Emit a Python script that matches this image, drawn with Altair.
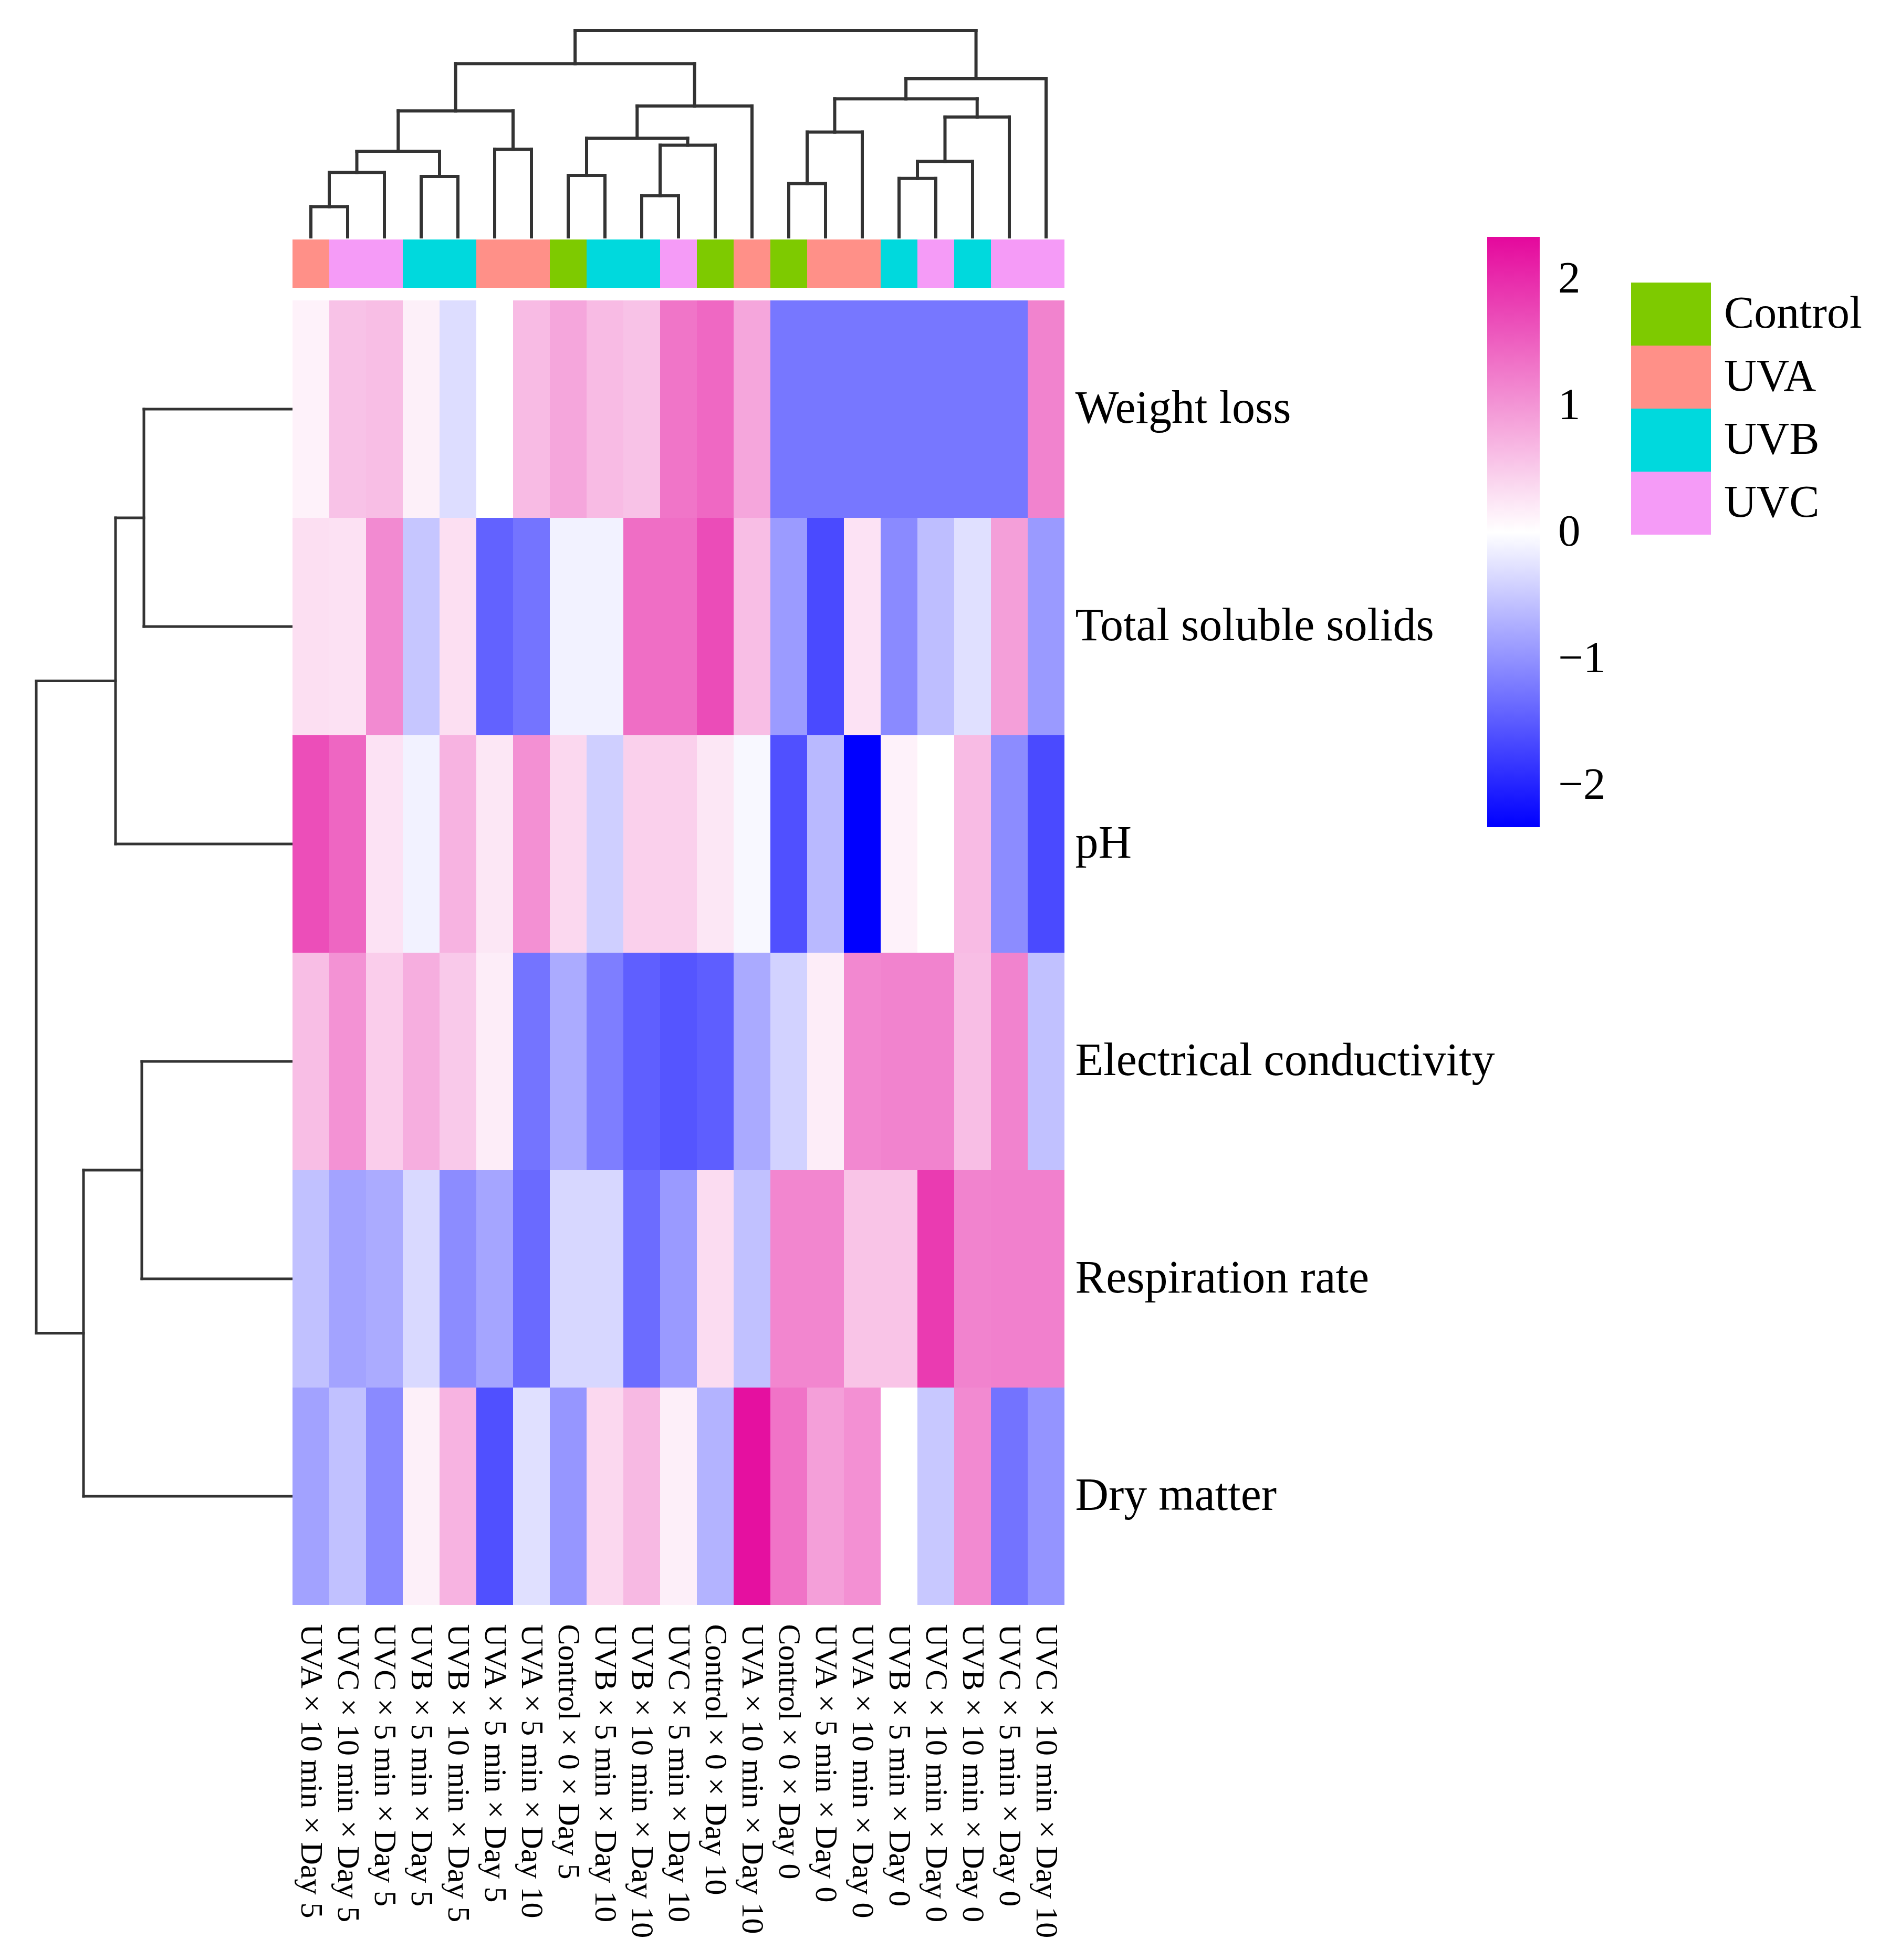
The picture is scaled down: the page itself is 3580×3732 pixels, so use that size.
import altair as alt
import pandas as pd

# ---------------- data ----------------
col_labels = [
    "UVA × 10 min × Day 5", "UVC × 10 min × Day 5", "UVC × 5 min × Day 5",
    "UVB × 5 min × Day 5", "UVB × 10 min × Day 5", "UVA × 5 min × Day 5",
    "UVA × 5 min × Day 10", "Control × 0 × Day 5", "UVB × 5 min × Day 10",
    "UVB × 10 min × Day 10", "UVC × 5 min × Day 10", "Control × 0 × Day 10",
    "UVA × 10 min × Day 10", "Control × 0 × Day 0", "UVA × 5 min × Day 0",
    "UVA × 10 min × Day 0", "UVB × 5 min × Day 0", "UVC × 10 min × Day 0",
    "UVB × 10 min × Day 0", "UVC × 5 min × Day 0", "UVC × 10 min × Day 10",
]
col_groups = ["UVA", "UVC", "UVC", "UVB", "UVB", "UVA", "UVA", "Control", "UVB", "UVB",
              "UVC", "Control", "UVA", "Control", "UVA", "UVA", "UVB", "UVC", "UVB", "UVC", "UVC"]
group_names = ["Control", "UVA", "UVB", "UVC"]
group_colors = ["#7ECA00", "#FF9088", "#00D9DD", "#F59BF7"]

row_labels = ["Weight loss", "Total soluble solids", "pH",
              "Electrical conductivity", "Respiration rate", "Dry matter"]

weight_loss = [0.12, 0.58, 0.61, 0.14, -0.31, 0.00, 0.64, 0.84, 0.64, 0.58, 1.30,
               1.42, 0.84, -1.24, -1.24, -1.24, -1.24, -1.24, -1.24, -1.24, 1.17]
total_soluble_solids = [0.30, 0.28, 1.10, -0.52, 0.30, -1.43, -1.27, -0.12, -0.12, 1.37, 1.37,
                        1.69, 0.61, -0.91, -1.65, 0.27, -1.07, -0.59, -0.28, 0.91, -0.92]
ph = [1.67, 1.44, 0.27, -0.12, 0.72, 0.23, 1.05, 0.37, -0.44, 0.44, 0.44,
      0.23, -0.06, -1.60, -0.64, -2.33, 0.12, 0.00, 0.64, -1.05, -1.65]
electrical_conductivity = [0.61, 1.03, 0.47, 0.76, 0.51, 0.17, -1.27, -0.77, -1.18, -1.46, -1.55,
                           -1.47, -0.78, -0.41, 0.17, 1.12, 1.17, 1.17, 0.61, 1.17, -0.57]
respiration_rate = [-0.57, -0.84, -0.77, -0.35, -1.05, -0.82, -1.36, -0.37, -0.37, -1.34, -0.92,
                    0.33, -0.57, 1.14, 1.14, 0.56, 0.56, 1.85, 1.17, 1.20, 1.20]
dry_matter = [-0.85, -0.57, -1.07, 0.14, 0.72, -1.60, -0.28, -0.96, 0.37, 0.66, 0.15,
              -0.69, 2.25, 1.32, 0.91, 1.05, 0.00, -0.50, 1.10, -1.28, -0.98]
rows_values = [weight_loss, total_soluble_solids, ph,
               electrical_conductivity, respiration_rate, dry_matter]

# hierarchical merges (child a, child b, height); leaves are display positions
col_merges = [
    (0, 1, 1.50), (21, 2, 3.20), (3, 4, 3.00), (22, 23, 4.25), (5, 6, 4.35),
    (24, 25, 6.25), (7, 8, 3.05), (9, 10, 2.05), (28, 11, 4.55), (27, 29, 4.90),
    (30, 12, 6.50), (26, 31, 8.60), (13, 14, 2.65), (33, 15, 5.20), (16, 17, 2.90),
    (35, 18, 3.75), (36, 19, 5.95), (34, 37, 6.85), (38, 20, 7.85), (32, 39, 10.25),
]
row_merges = [(0, 1, 2.81), (6, 2, 3.35), (3, 4, 2.85), (8, 5, 3.96), (7, 9, 4.86)]


def dendro_segments(merges, n):
    pos = {i: i + 0.5 for i in range(n)}
    hgt = {i: 0.0 for i in range(n)}
    segs = []
    for k, (a, b, h) in enumerate(merges):
        cid = n + k
        segs.append(dict(p1=pos[a], p2=pos[a], h1=hgt[a], h2=h))
        segs.append(dict(p1=pos[b], p2=pos[b], h1=hgt[b], h2=h))
        segs.append(dict(p1=pos[a], p2=pos[b], h1=h, h2=h))
        pos[cid] = (pos[a] + pos[b]) / 2
        hgt[cid] = h
    return pd.DataFrame(segs)


col_seg = dendro_segments(col_merges, len(col_labels))
row_seg = dendro_segments(row_merges, len(row_labels))

heat_df = pd.DataFrame([
    dict(sample=c, trait=r, value=vals[j])
    for r, vals in zip(row_labels, rows_values)
    for j, c in enumerate(col_labels)
])
annot_df = pd.DataFrame(dict(sample=col_labels, group=col_groups))

FONT = "Liberation Serif"
LINE = "#333333"
HW = 1470   # heatmap width (21 columns)
HH = 2484   # heatmap height (6 rows)
DW = 488    # row dendrogram width

# ---------------- top: column dendrogram + annotation bar ----------------
top_dendro = alt.Chart(col_seg).mark_rule(color=LINE, strokeWidth=6, strokeCap="square").encode(
    x=alt.X("p1:Q", scale=alt.Scale(domain=[0, 21], nice=False, zero=False), axis=None),
    x2="p2:Q",
    y=alt.Y("h1:Q", scale=alt.Scale(domain=[-2.53, 10.25], nice=False, zero=False), axis=None),
    y2="h2:Q",
)

annot = alt.Chart(annot_df).mark_rect(strokeWidth=0).encode(
    x=alt.X("sample:N", sort=col_labels, axis=None,
            scale=alt.Scale(paddingInner=0, paddingOuter=0)),
    y=alt.value(398),
    y2=alt.value(490),
    color=alt.Color(
        "group:N",
        scale=alt.Scale(domain=group_names, range=group_colors),
        legend=alt.Legend(
            title=None, orient="none", legendX=2549, legendY=480, padding=0,
            symbolType="M-1,-0.789L1,-0.789L1,0.789L-1,0.789Z", symbolSize=23104,
            symbolStrokeWidth=0, symbolOpacity=1, rowPadding=0, clipHeight=120,
            labelFont=FONT, labelFontSize=86, labelColor="black", labelOffset=25,
            labelLimit=1000,
        ),
    ),
)

top_panel = alt.layer(top_dendro, annot).resolve_scale(x="independent").properties(
    width=HW, height=490)

# ---------------- left: row dendrogram ----------------
left_dendro = alt.Chart(row_seg).mark_rule(color=LINE, strokeWidth=5, strokeCap="square").encode(
    x=alt.X("h1:Q", scale=alt.Scale(domain=[0, 4.88], reverse=True, nice=False, zero=False), axis=None),
    x2="h2:Q",
    y=alt.Y("p1:Q", scale=alt.Scale(domain=[0, 6], reverse=True, nice=False, zero=False), axis=None),
    y2="p2:Q",
).properties(width=DW, height=HH)

spacer = alt.Chart(pd.DataFrame({"v": [0]})).mark_point(opacity=0).encode(
    x=alt.X("v:Q", axis=None), y=alt.Y("v:Q", axis=None)
).properties(width=DW, height=490)

# ---------------- heatmap ----------------
heat = alt.Chart(heat_df).mark_rect(strokeWidth=0).encode(
    x=alt.X("sample:N", sort=col_labels, title=None,
            scale=alt.Scale(paddingInner=0, paddingOuter=0),
            axis=alt.Axis(orient="bottom", labelAngle=90, labelFont=FONT, labelFontSize=60,
                          labelColor="black", labelPadding=36, labelLimit=2000,
                          ticks=False, domain=False)),
    y=alt.Y("trait:N", sort=row_labels, title=None,
            scale=alt.Scale(paddingInner=0, paddingOuter=0),
            axis=alt.Axis(orient="right", labelFont=FONT, labelFontSize=88,
                          labelColor="black", labelPadding=20, labelLimit=3000,
                          ticks=False, domain=False)),
    color=alt.Color(
        "value:Q",
        scale=alt.Scale(domain=[-2.33, 0, 2.33], range=["#0000FF", "#FFFFFF", "#E4089D"],
                        interpolate="rgb"),
        legend=alt.Legend(
            title=None, orient="none", legendX=2275, legendY=-121, padding=0,
            direction="vertical", gradientLength=1124, gradientThickness=100,
            gradientStrokeWidth=0, values=[-2, -1, 0, 1, 2], format="d",
            labelOverlap=False,
            labelFont=FONT, labelFontSize=85, labelColor="black", labelOffset=35,
        ),
    ),
).properties(width=HW, height=HH)

chart = alt.concat(
    spacer, top_panel, left_dendro, heat,
    columns=2, spacing={"row": 24, "column": 2}, bounds="flush",
).resolve_scale(color="independent").properties(
    padding={"left": 57, "top": 45, "right": 10, "bottom": 10},
    background="white",
).configure_view(stroke=None, strokeWidth=0)

chart.save("out.html", embed_options={"renderer": "svg", "actions": False})
